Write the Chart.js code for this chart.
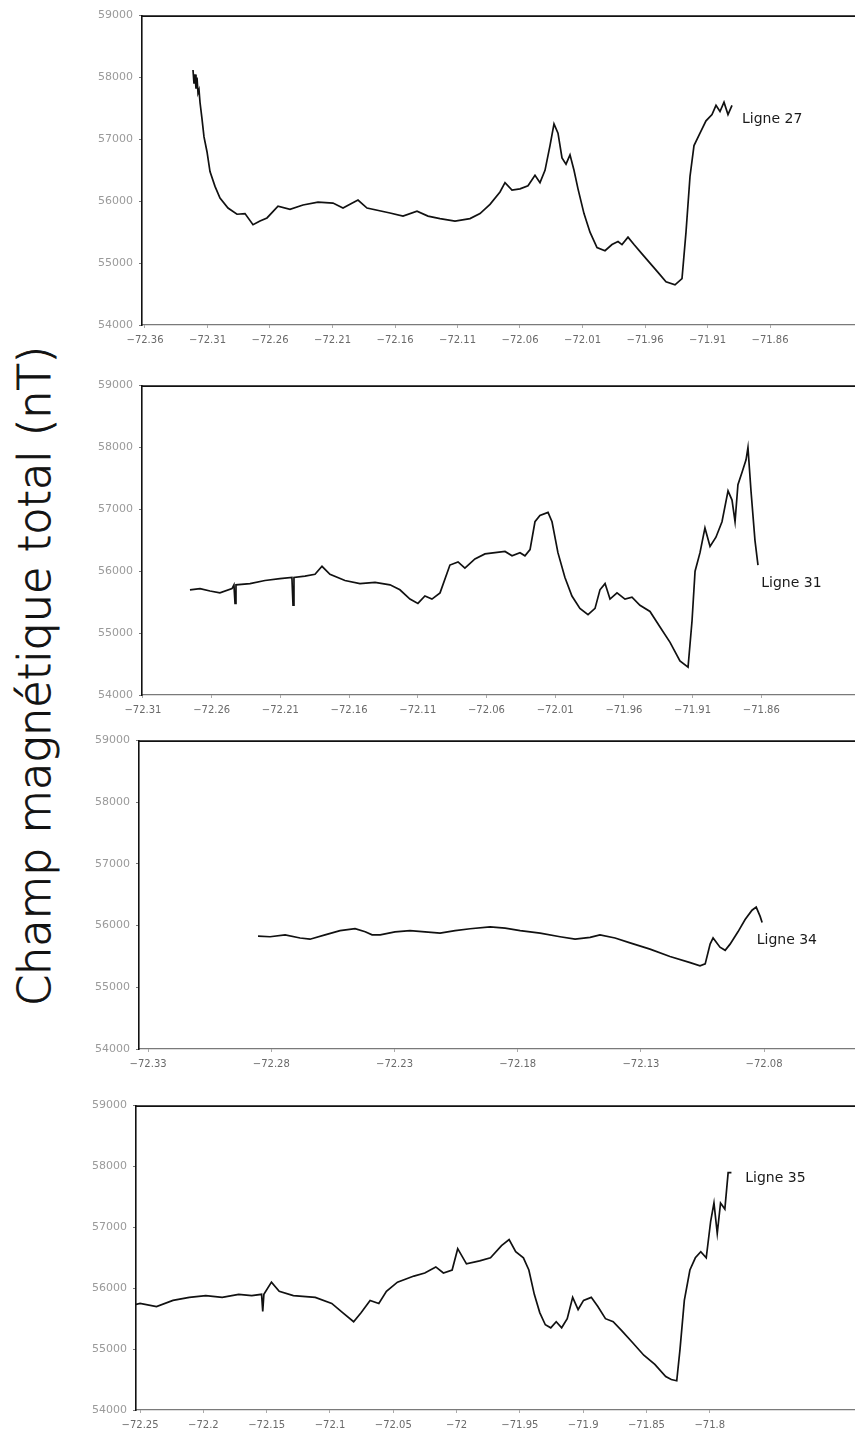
<!DOCTYPE html>
<html>
<head>
<meta charset="utf-8">
<script src="https://cdn.jsdelivr.net/npm/chart.js@4.4.1/dist/chart.umd.min.js"></script>
<style>
  html, body { margin: 0; padding: 0; background: #fff; width: 855px; height: 1435px; overflow: hidden; }
  .panel { position: absolute; left: 0; width: 855px; }
  .panel canvas { display: block; }
  #ytitle {
    position: absolute; left: 35px; top: 676px;
    transform: translate(-50%, -50%) rotate(-90deg);
    white-space: nowrap; color: #111;
    font-family: "DejaVu Sans", sans-serif; font-weight: 200;
    -webkit-text-stroke: 0.9px #111;
  }
</style>
</head>
<body>
<div id="ytitle">Champ magnétique total (nT)</div>
<div class="panel" id="p27"><canvas id="c27"></canvas></div>
<div class="panel" id="p31"><canvas id="c31"></canvas></div>
<div class="panel" id="p34"><canvas id="c34"></canvas></div>
<div class="panel" id="p35"><canvas id="c35"></canvas></div>
<script>
// Total magnetic field (nT) along four survey lines, against longitude (degrees)

const fieldTicks = [54000, 55000, 56000, 57000, 58000, 59000];

// Ligne 27
const lon27 = [-72.3216, -72.3208, -72.3200, -72.3192, -72.3184, -72.3176, -72.3168, -72.3160, -72.3144, -72.3128,
  -72.3104, -72.3080, -72.3040, -72.3000, -72.2936, -72.2864, -72.2800, -72.2736, -72.2680, -72.2624,
  -72.2536, -72.2440, -72.2336, -72.2216, -72.2096, -72.2016, -72.1960, -72.1896, -72.1824, -72.1640,
  -72.1536, -72.1424, -72.1336, -72.1240, -72.1120, -72.1000, -72.0920, -72.0840, -72.0760, -72.0720,
  -72.0664, -72.0600, -72.0536, -72.0480, -72.0440, -72.0400, -72.0360, -72.0328, -72.0296, -72.0264,
  -72.0232, -72.0200, -72.0168, -72.0136, -72.0088, -72.0040, -71.9984, -71.9920, -71.9864, -71.9816,
  -71.9784, -71.9736, -71.9688, -71.9624, -71.9560, -71.9496, -71.9432, -71.9360, -71.9304, -71.9272,
  -71.9240, -71.9208, -71.9160, -71.9112, -71.9064, -71.9032, -71.9000, -71.8968, -71.8936, -71.8904];
const mag27 = [58120, 57900, 58050, 57820, 58000, 57750, 57800, 57600, 57330, 57040,
  56800, 56480, 56240, 56050, 55890, 55790, 55800, 55620, 55680, 55730,
  55920, 55870, 55940, 55985, 55970, 55890, 55950, 56020, 55890, 55810,
  55760, 55840, 55760, 55720, 55680, 55720, 55800, 55950, 56150, 56300,
  56180, 56200, 56250, 56420, 56300, 56500, 56900, 57250, 57100, 56700,
  56600, 56750, 56500, 56200, 55800, 55500, 55250, 55200, 55300, 55350,
  55300, 55420, 55300, 55150, 55000, 54850, 54700, 54650, 54750, 55500,
  56400, 56900, 57100, 57300, 57400, 57550, 57450, 57600, 57400, 57550];
const ticks27 = [-72.36, -72.31, -72.26, -72.21, -72.16, -72.11, -72.06, -72.01, -71.96, -71.91, -71.86];

// Ligne 31
const lon31 = [-72.2758, -72.2685, -72.2612, -72.2540, -72.2452, -72.2438, -72.2430, -72.2423, -72.2321, -72.2212,
  -72.2103, -72.2016, -72.2008, -72.2001, -72.1921, -72.1848, -72.1797, -72.1739, -72.1630, -72.1521,
  -72.1411, -72.1302, -72.1230, -72.1157, -72.1099, -72.1048, -72.0997, -72.0938, -72.0866, -72.0807,
  -72.0757, -72.0684, -72.0611, -72.0538, -72.0465, -72.0414, -72.0356, -72.0320, -72.0283, -72.0247,
  -72.0211, -72.0152, -72.0123, -72.0080, -72.0029, -71.9978, -71.9920, -71.9861, -71.9810, -71.9774,
  -71.9737, -71.9701, -71.9650, -71.9592, -71.9541, -71.9483, -71.9410, -71.9337, -71.9264, -71.9192,
  -71.9133, -71.9104, -71.9082, -71.9046, -71.9010, -71.8973, -71.8930, -71.8886, -71.8842, -71.8813,
  -71.8791, -71.8770, -71.8740, -71.8711, -71.8697, -71.8675, -71.8646, -71.8624];
const mag31 = [55700, 55720, 55680, 55650, 55720, 55780, 55480, 55780, 55800, 55850,
  55880, 55900, 55450, 55900, 55920, 55950, 56080, 55950, 55850, 55800,
  55820, 55780, 55700, 55550, 55480, 55600, 55550, 55650, 56100, 56150,
  56050, 56200, 56280, 56300, 56320, 56250, 56300, 56250, 56350, 56800,
  56900, 56950, 56800, 56300, 55900, 55600, 55400, 55300, 55400, 55700,
  55800, 55550, 55650, 55550, 55580, 55450, 55350, 55100, 54850, 54550,
  54450, 55200, 56000, 56300, 56700, 56400, 56550, 56800, 57300, 57150,
  56800, 57400, 57600, 57800, 58000, 57300, 56500, 56100];
const ticks31 = [-72.31, -72.26, -72.21, -72.16, -72.11, -72.06, -72.01, -71.96, -71.91, -71.86];

// Ligne 34
const lon34 = [-72.2854, -72.2805, -72.2744, -72.2683, -72.2643, -72.2582, -72.2521, -72.2460, -72.2419, -72.2391,
  -72.2358, -72.2298, -72.2237, -72.2176, -72.2115, -72.2054, -72.1993, -72.1912, -72.1851, -72.1790,
  -72.1709, -72.1628, -72.1567, -72.1506, -72.1466, -72.1405, -72.1344, -72.1263, -72.1182, -72.1100,
  -72.1060, -72.1039, -72.1019, -72.1007, -72.0979, -72.0958, -72.0938, -72.0906, -72.0877, -72.0849,
  -72.0832, -72.0816, -72.0808];
const mag34 = [55830, 55820, 55850, 55800, 55780, 55850, 55920, 55950, 55900, 55850,
  55850, 55900, 55920, 55900, 55880, 55920, 55950, 55980, 55960, 55920,
  55880, 55820, 55780, 55810, 55850, 55800, 55720, 55620, 55500, 55400,
  55350, 55380, 55700, 55800, 55650, 55600, 55700, 55900, 56100, 56250,
  56300, 56150, 56050];
const ticks34 = [-72.33, -72.28, -72.23, -72.18, -72.13, -72.08];

// Ligne 35
const lon35 = [-72.2604, -72.2500, -72.2370, -72.2240, -72.2111, -72.1981, -72.1851, -72.1721, -72.1618, -72.1540,
  -72.1531, -72.1522, -72.1462, -72.1401, -72.1289, -72.1116, -72.0986, -72.0900, -72.0813, -72.0753,
  -72.0683, -72.0614, -72.0554, -72.0467, -72.0337, -72.0251, -72.0164, -72.0104, -72.0035, -71.9991,
  -71.9922, -71.9818, -71.9732, -71.9645, -71.9585, -71.9533, -71.9472, -71.9429, -71.9386, -71.9343,
  -71.9299, -71.9256, -71.9213, -71.9170, -71.9126, -71.9083, -71.9040, -71.8997, -71.8936, -71.8884,
  -71.8824, -71.8763, -71.8694, -71.8607, -71.8521, -71.8434, -71.8348, -71.8304, -71.8261, -71.8235,
  -71.8201, -71.8157, -71.8114, -71.8071, -71.8028, -71.7993, -71.7967, -71.7941, -71.7915, -71.7881,
  -71.7855, -71.7829];
const mag35 = [55700, 55750, 55700, 55800, 55850, 55880, 55850, 55900, 55880, 55900,
  55620, 55900, 56100, 55950, 55880, 55850, 55750, 55600, 55450, 55600,
  55800, 55750, 55950, 56100, 56200, 56250, 56350, 56250, 56300, 56650,
  56400, 56450, 56500, 56700, 56800, 56600, 56500, 56300, 55900, 55600,
  55400, 55350, 55450, 55350, 55500, 55850, 55650, 55800, 55850, 55700,
  55500, 55450, 55300, 55100, 54900, 54750, 54550, 54500, 54480, 55000,
  55800, 56300, 56500, 56600, 56500, 57100, 57400, 56900, 57400, 57300,
  57900, 57900];
const ticks35 = [-72.25, -72.2, -72.15, -72.1, -72.05, -72, -71.95, -71.9, -71.85, -71.8];

// Panel layout: plot box edges in page pixels, longitude window, label anchor
const panels = [
  { id: 27, lon: lon27, mag: mag27, ticks: ticks27, top: 13,   bottom: 325,  left: 142, min: -72.3624, max: -71.7920, tag: 'Ligne 27', tagAt: [-71.8824, 57330] },
  { id: 31, lon: lon31, mag: mag31, ticks: ticks31, top: 383,  bottom: 695,  left: 142, min: -72.3107, max: -71.7918, tag: 'Ligne 31', tagAt: [-71.8600, 55800] },
  { id: 34, lon: lon34, mag: mag34, ticks: ticks34, top: 738,  bottom: 1049, left: 139, min: -72.3337, max: -72.0431, tag: 'Ligne 34', tagAt: [-72.0830, 55760] },
  { id: 35, lon: lon35, mag: mag35, ticks: ticks35, top: 1103, bottom: 1410, left: 136, min: -72.2532, max: -71.6853, tag: 'Ligne 35', tagAt: [-71.7720, 57800] }
];

const TOP_PAD = 10, X_AXIS_H = 40, W = 855;
const fmtLon = v => '\u2212' + Math.abs(v);

// Top frame line and the line tag
const framePlugin = {
  id: 'frame',
  afterDraw(chart, args, opts) {
    const { ctx, chartArea: a, scales } = chart;
    ctx.save();
    ctx.strokeStyle = '#111';
    ctx.lineWidth = 1.6;
    ctx.beginPath();
    ctx.moveTo(a.left, a.top + 0.5);
    ctx.lineTo(a.right, a.top + 0.5);
    ctx.stroke();
    ctx.fillStyle = '#1a1a1a';
    ctx.font = '14px "DejaVu Sans", sans-serif';
    ctx.textBaseline = 'middle';
    ctx.textAlign = 'left';
    ctx.fillText(opts.tag, scales.x.getPixelForValue(opts.at[0]), scales.y.getPixelForValue(opts.at[1]));
    ctx.restore();
  }
};

panels.forEach(p => {
  const box = document.getElementById('p' + p.id);
  const canvas = document.getElementById('c' + p.id);
  const h = p.bottom - p.top + TOP_PAD + X_AXIS_H;
  box.style.top = (p.top - TOP_PAD) + 'px';
  box.style.height = h + 'px';
  canvas.width = W; canvas.height = h;
  canvas.style.width = W + 'px'; canvas.style.height = h + 'px';

  new Chart(canvas.getContext('2d'), {
    type: 'line',
    data: {
      datasets: [{
        data: p.lon.map((x, i) => ({ x, y: p.mag[i] })),
        borderColor: '#111',
        borderWidth: 1.7,
        pointRadius: 0,
        tension: 0,
        fill: false
      }]
    },
    options: {
      responsive: false,
      animation: false,
      devicePixelRatio: 1,
      layout: { padding: { top: TOP_PAD, left: 0, right: 0, bottom: 0 } },
      plugins: {
        legend: { display: false },
        tooltip: { enabled: false },
        frame: { tag: p.tag, at: p.tagAt }
      },
      scales: {
        x: {
          type: 'linear',
          min: p.min, max: p.max,
          afterBuildTicks: s => { s.ticks = p.ticks.map(v => ({ value: v })); },
          afterFit: s => { s.height = X_AXIS_H; },
          ticks: {
            callback: v => fmtLon(v),
            color: '#6a6a6a',
            font: { family: '"DejaVu Sans", sans-serif', size: 10 },
            padding: 6, maxRotation: 0, autoSkip: false
          },
          grid: { display: true, drawOnChartArea: false, drawTicks: true, tickLength: 3, color: '#aaa' },
          border: { display: true, color: '#7a7a7a', width: 1.2, dash: [3, 1] }
        },
        y: {
          min: 54000, max: 59000,
          afterBuildTicks: s => { s.ticks = fieldTicks.map(v => ({ value: v })); },
          afterFit: s => { s.width = p.left; },
          ticks: {
            callback: v => String(v),
            color: '#9a9a9a',
            font: { family: '"DejaVu Sans", sans-serif', size: 11 },
            padding: 6
          },
          grid: { display: true, drawOnChartArea: false, drawTicks: true, tickLength: 3, color: '#777' },
          border: { display: true, color: '#111', width: 1.6 }
        }
      }
    },
    plugins: [framePlugin]
  });
});

// Axis title sized to its column
(function () {
  const t = document.getElementById('ytitle');
  t.style.fontSize = '40px';
  const target = 660;
  t.style.fontSize = (40 * target / t.offsetWidth).toFixed(2) + 'px';
})();
</script>
</body>
</html>
